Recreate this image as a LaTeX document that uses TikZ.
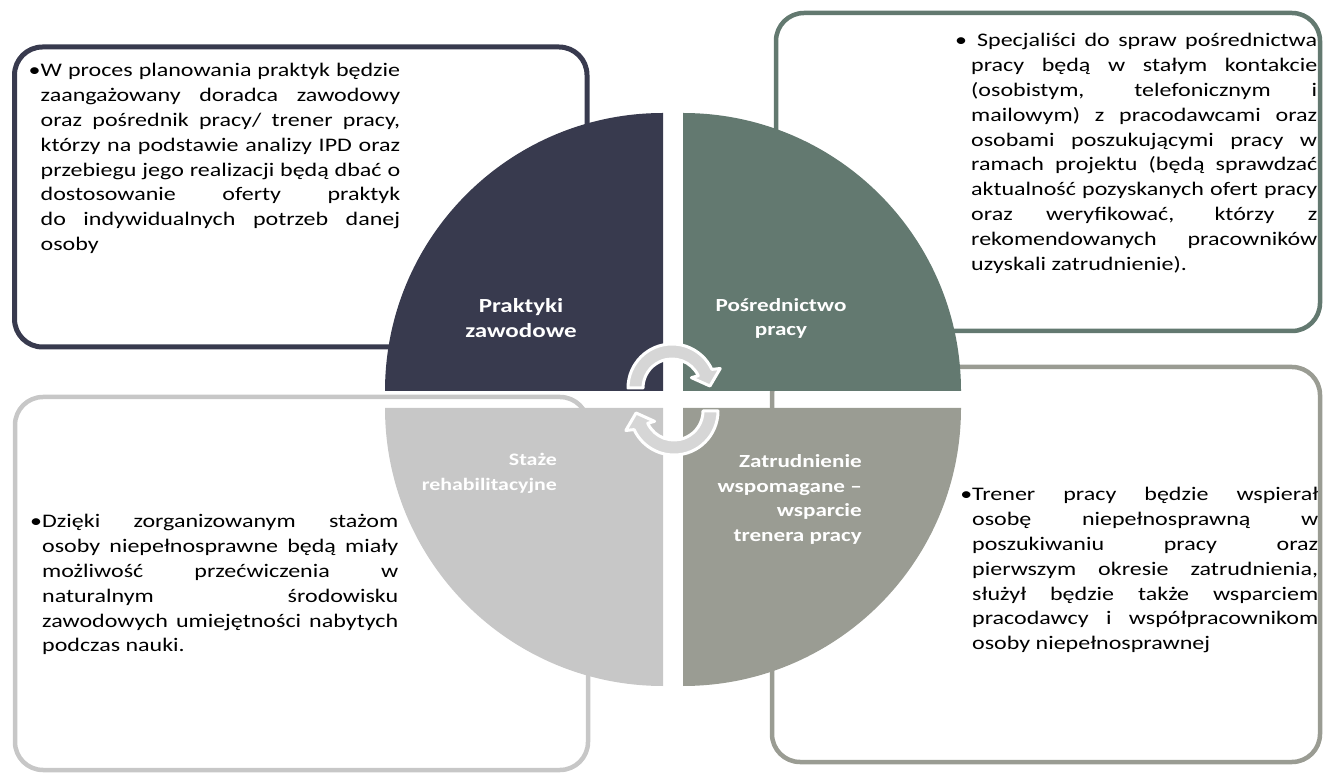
\documentclass[tikz,border=0pt]{standalone}
\usepackage{fontspec}
\setmainfont{Carlito}[FakeStretch=1.25]
\hyphenpenalty=10000
\exhyphenpenalty=10000
\tolerance=10000
\definecolor{cdark}{HTML}{383A4E}
\definecolor{cgreen}{HTML}{637970}
\definecolor{clight}{HTML}{C7C7C7}
\definecolor{cgray}{HTML}{9A9C93}
\definecolor{carrow}{HTML}{D6D6D6}
\begin{document}
\begin{tikzpicture}[x=1pt,y=1pt,
  body/.style={inner sep=0pt, anchor=base west, align=justify, font=\fontsize{19.2}{24.8}\selectfont},
  lab/.style={inner sep=0pt, text=white, font=\bfseries\fontsize{18.5}{24.5}\selectfont},
  frame/.style={line width=4.5pt, rounded corners=28pt},
  arr/.style={fill=carrow, draw=white, line width=3pt, line join=round}]
\useasboundingbox (0,0) rectangle (1325,774);
% frames
\draw[frame, cdark, line width=5pt] (14.5,727) rectangle (587,427);
\draw[frame, cgreen] (776,761) rectangle (1320,443);
\draw[frame, clight] (15,377) rectangle (588,4);
\draw[frame, cgray] (772,407) rectangle (1320,12);
% quadrants
\fill[cdark] (663,383) -- (385,383) arc[start angle=180,end angle=90,radius=278] -- cycle;
\fill[cgreen] (683,383) -- (683,661) arc[start angle=90,end angle=0,radius=278] -- cycle;
\fill[clight] (663,366) -- (385,366) arc[start angle=180,end angle=270,radius=278] -- cycle;
\fill[cgray] (683,366) -- (961,366) arc[start angle=0,end angle=-90,radius=278] -- cycle;
% cycle arrows
\begin{scope}[shift={(672,386)}]
\path[arr] (180:44) arc[start angle=180,end angle=25,radius=44] -- (22:52) -- (3:38) -- (28:22) -- (25:29) arc[start angle=25,end angle=180,radius=29] -- cycle;
\end{scope}
\begin{scope}[shift={(674,363)}, rotate=180]
\path[arr] (180:44) arc[start angle=180,end angle=25,radius=44] -- (22:52) -- (3:38) -- (28:22) -- (25:29) arc[start angle=25,end angle=180,radius=29] -- cycle;
\end{scope}
% quadrant labels
\node[lab, align=center, font=\bfseries\fontsize{20}{25}\selectfont] (l1) at (521,455.5) {Praktyki\\zawodowe};
\node[lab, align=center] (l2) at (781,455.5) {Pośrednictwo\\pracy};
\node[lab, align=right, anchor=east, font=\bfseries\fontsize{17.5}{24.5}\selectfont] (l3) at (557,300.5) {Staże\\rehabilitacyjne};
\node[lab, align=right, anchor=east] (l4) at (862,274.5) {Zatrudnienie\\wspomagane –\\wsparcie\\trenera pracy};
% texts
\node[body, text width=359.5pt] (t1) at (40.5,697) {\noindent\llap{•}W proces planowania praktyk będzie\linebreak zaangażowany doradca zawodowy\linebreak oraz pośrednik pracy/ trener pracy,\linebreak którzy na podstawie analizy IPD oraz\linebreak przebiegu jego realizacji będą dbać o\linebreak dostosowanie oferty praktyk\linebreak do indywidualnych potrzeb danej\linebreak osoby};
\node[body, text width=346pt] (t2) at (971,727) {\noindent\hspace*{-16pt}•\hspace{10pt}Specjaliści do spraw pośrednictwa\linebreak pracy będą w stałym kontakcie\linebreak (osobistym, telefonicznym i\linebreak mailowym) z pracodawcami oraz\linebreak osobami poszukującymi pracy w\linebreak ramach projektu (będą sprawdzać\linebreak aktualność pozyskanych ofert pracy\linebreak oraz weryfikować, którzy z\linebreak rekomendowanych pracowników\linebreak uzyskali zatrudnienie).};
\node[body, text width=356pt] (t3) at (42,246) {\noindent\llap{•}Dzięki zorganizowanym stażom\linebreak osoby niepełnosprawne będą miały\linebreak możliwość przećwiczenia w\linebreak naturalnym środowisku\linebreak zawodowych umiejętności nabytych\linebreak podczas nauki.};
\node[body, text width=346pt] (t4) at (972,273) {\noindent\llap{•}Trener pracy będzie wspierał\linebreak osobę niepełnosprawną w\linebreak poszukiwaniu pracy oraz\linebreak pierwszym okresie zatrudnienia,\linebreak służył będzie także wsparciem\linebreak pracodawcy i współpracownikom\linebreak osoby niepełnosprawnej};
\end{tikzpicture}
\end{document}
